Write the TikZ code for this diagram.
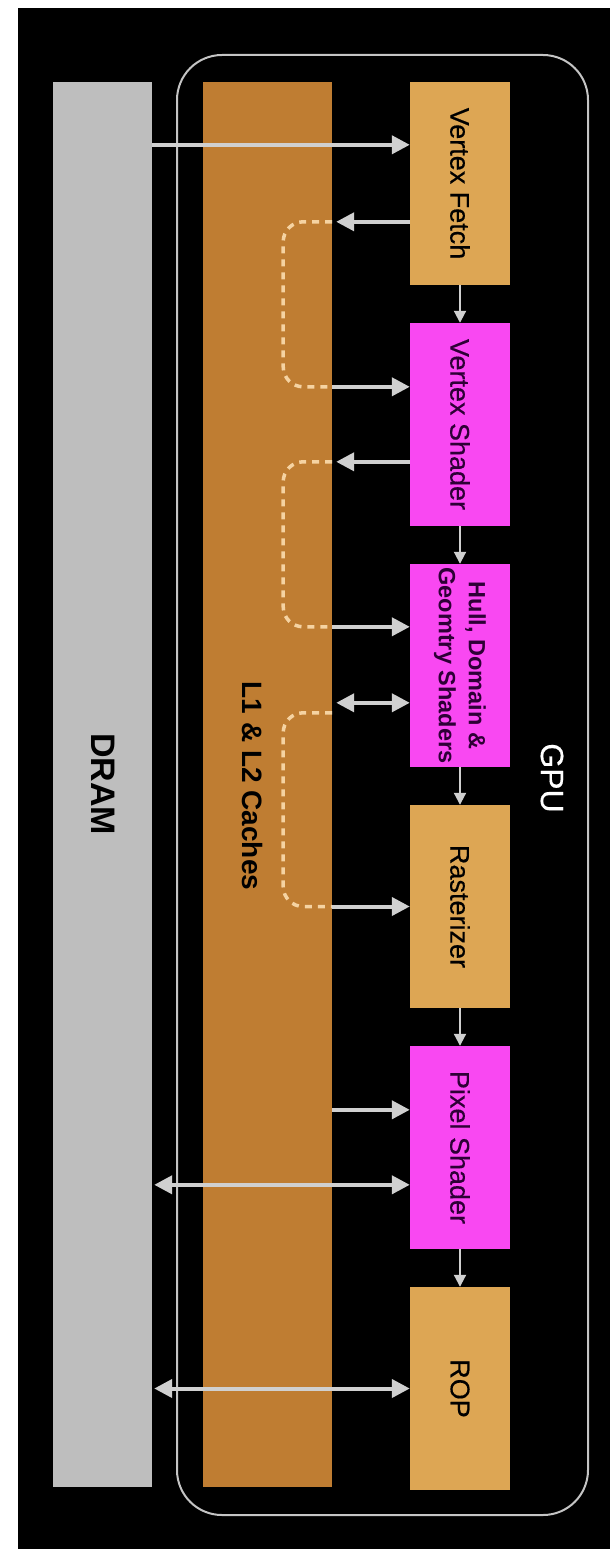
\documentclass[tikz,border=0pt]{standalone}
\usepackage{fontspec}
\setmainfont{Liberation Sans}
\newfontfamily\stagefont{Liberation Sans}[FakeBold=0.4]
\usetikzlibrary{arrows.meta}
\definecolor{dramc}{HTML}{BEBEBE}
\definecolor{cachec}{HTML}{BF7D32}
\definecolor{tanc}{HTML}{DDA654}
\definecolor{magc}{HTML}{F948F2}
\definecolor{arrc}{HTML}{D0D0D0}
\definecolor{dashc}{HTML}{F5D3A2}
\definecolor{framec}{HTML}{C4C4C4}
\definecolor{purpc}{HTML}{2E0036}
\begin{document}
\begin{tikzpicture}[x=1pt,y=-1pt,
  stage/.style={rectangle, minimum width=100pt, minimum height=203pt, inner sep=0pt, draw=none},
  stagetext/.style={rotate=-90, inner sep=0pt, text=black, font=\stagefont\fontsize{27}{30}\selectfont},
  bar/.style={rectangle, minimum height=1405pt, inner sep=0pt, draw=none},
  bigarrow/.style={draw=arrc, line width=4pt, -{Triangle[length=18pt,width=18pt]}},
  botharrow/.style={draw=arrc, line width=4pt, {Triangle[length=18pt,width=18pt]}-{Triangle[length=18pt,width=18pt]}},
  smallarrow/.style={draw=arrc, line width=2pt, -{Triangle[length=12pt,width=12pt]}},
  dashloop/.style={draw=dashc, line width=3.5pt, dash pattern=on 7pt off 6pt, rounded corners=20pt}
]
% page and background
\fill[white] (0,0) rectangle (610,1549);
\fill[black] (18,8) rectangle (610,1549);
\useasboundingbox (0,0) rectangle (610,1549);

% GPU frame
\node[draw=framec, line width=2pt, rounded corners=45pt, minimum width=411pt, minimum height=1460pt, inner sep=0pt] (gpu) at (382.5,785) {};
\node[rotate=-90, text=white, inner sep=0pt, font=\stagefont\fontsize{32}{36}\selectfont] (gpul) at (552,778) {GPU};

% DRAM and caches
\node[bar, fill=dramc, minimum width=99pt] (dram) at (102.5,784.5) {};
\node[rotate=-90, inner sep=0pt, text=black, font=\bfseries\fontsize{34}{38}\selectfont] (draml) at (103,784) {DRAM};
\node[bar, fill=cachec, minimum width=129pt] (cache) at (267.5,784.5) {};
\node[rotate=-90, inner sep=0pt, text=black, font=\bfseries\fontsize{28}{32}\selectfont] (cachel) at (253,786) {L1 \& L2 Caches};

% pipeline stages
\node[stage, fill=tanc] (vf) at (460,183.5) {};
\node[stage, fill=magc] (vs) at (460,424.5) {};
\node[stage, fill=magc] (hs) at (460,665.5) {};
\node[stage, fill=tanc] (ra) at (460,906.5) {};
\node[stage, fill=magc] (ps) at (460,1147.5) {};
\node[stage, fill=tanc] (rop) at (460,1388.5) {};

\node[stagetext] (vft) at (vf.center) {Vertex Fetch};
\node[stagetext, text=purpc] (vst) at (vs.center) {Vertex Shader};
\node[stagetext, text=purpc, align=center, font=\bfseries\fontsize{23.5}{30}\selectfont] (hst) at (hs.center) {Hull, Domain \&\\Geomtry Shaders};
\node[stagetext] (rat) at (ra.center) {Rasterizer};
\node[stagetext, text=purpc] (pst) at (ps.center) {Pixel Shader};
\node[stagetext] (ropt) at (rop.center) {ROP};

% stage-to-stage arrows
\draw[smallarrow] (vf.south) -- (vs.north);
\draw[smallarrow] (vs.south) -- (hs.north);
\draw[smallarrow] (hs.south) -- (ra.north);
\draw[smallarrow] (ra.south) -- (ps.north);
\draw[smallarrow] (ps.south) -- (rop.north);

% connection points
\coordinate (p1) at ([yshift=-63pt]vf.north west);
\coordinate (p2) at ([yshift=-140pt]vf.north west);
\coordinate (p3) at ([yshift=-64pt]vs.north west);
\coordinate (p4) at ([yshift=-139pt]vs.north west);
\coordinate (p5) at ([yshift=-63pt]hs.north west);
\coordinate (p6) at ([yshift=-139pt]hs.north west);
\coordinate (p7) at (ra.west);
\coordinate (p8) at ([yshift=-64pt]ps.north west);
\coordinate (p9) at ([yshift=-139pt]ps.north west);
\coordinate (p10) at (rop.west);

\coordinate (c2) at (p2 -| cache.east);
\coordinate (c3) at (p3 -| cache.east);
\coordinate (c4) at (p4 -| cache.east);
\coordinate (c5) at (p5 -| cache.east);
\coordinate (c6) at (p6 -| cache.east);
\coordinate (c6b) at ([yshift=-10pt]c6);
\coordinate (c7) at (p7 -| cache.east);
\coordinate (c8) at (p8 -| cache.east);

% dashed loops inside the caches
\draw[dashloop] (c2) -- ++(-49,0) |- (c3);
\draw[dashloop] (c4) -- ++(-49,0) |- (c5);
\draw[dashloop] (c6b) -- ++(-49,0) |- (c7);

% memory arrows
\draw[bigarrow] (p1 -| dram.east) -- (p1);
\draw[bigarrow] (p2) -- ([xshift=4pt]c2);
\draw[bigarrow] (c3) -- (p3);
\draw[bigarrow] (p4) -- ([xshift=4pt]c4);
\draw[bigarrow] (c5) -- (p5);
\draw[botharrow] ([xshift=4pt]c6) -- (p6);
\draw[bigarrow] (c7) -- (p7);
\draw[bigarrow] (c8) -- (p8);
\draw[botharrow] ([xshift=2pt]p9 -| dram.east) -- (p9);
\draw[botharrow] ([xshift=2pt]p10 -| dram.east) -- (p10);
\end{tikzpicture}
\end{document}
